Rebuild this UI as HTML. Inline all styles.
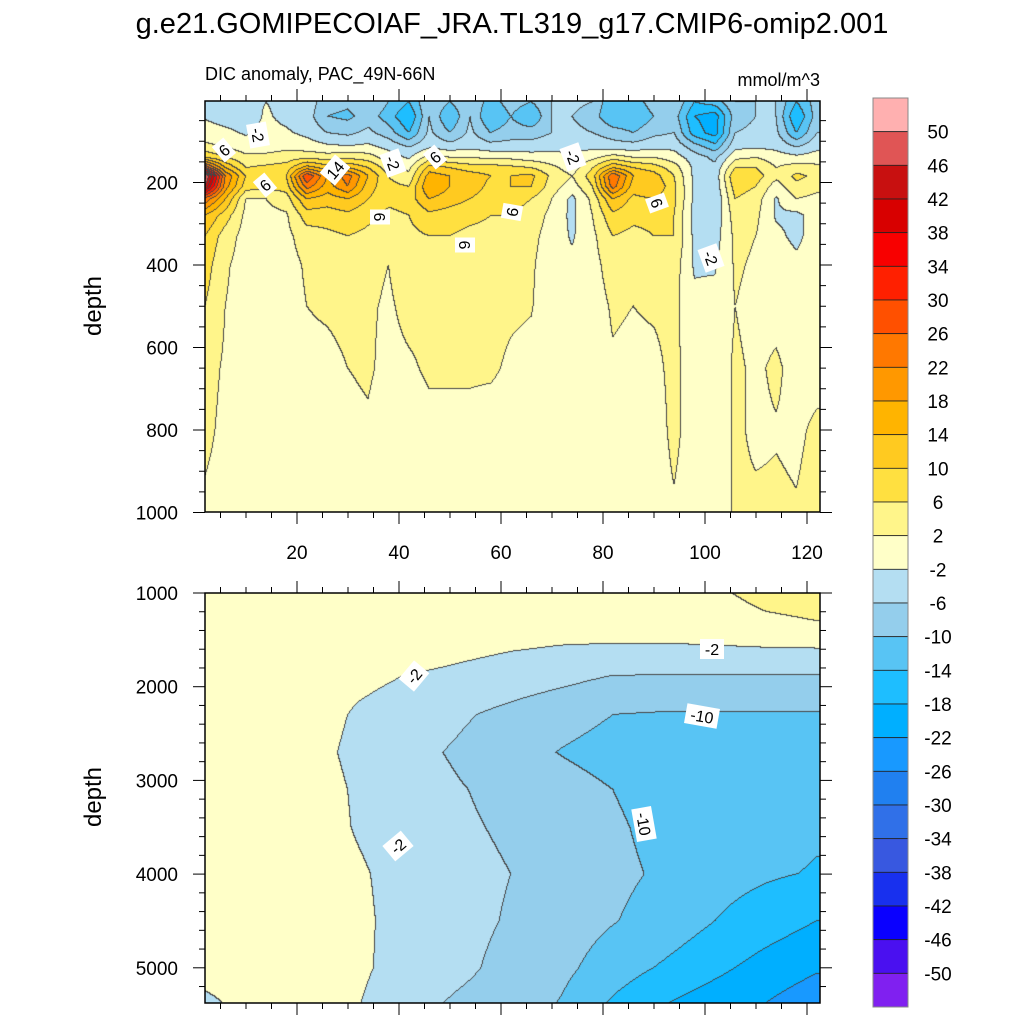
<!DOCTYPE html>
<html><head><meta charset="utf-8">
<style>
html,body{margin:0;padding:0;background:#fff;}
#wrap{position:relative;width:1024px;height:1024px;overflow:hidden;font-family:"Liberation Sans",sans-serif;}
canvas{position:absolute;}
svg{position:absolute;left:0;top:0;}
</style></head>
<body>
<div id="wrap">
<canvas id="cTop" width="615" height="411" style="left:205px;top:101px;"></canvas>
<canvas id="cBot" width="615" height="410" style="left:205px;top:593px;"></canvas>
<svg id="ov" width="1024" height="1024" xmlns="http://www.w3.org/2000/svg">
<text x="512" y="33" text-anchor="middle" font-size="29" font-family="Liberation Sans">g.e21.GOMIPECOIAF_JRA.TL319_g17.CMIP6-omip2.001</text>
<text x="205" y="80" font-size="18" font-family="Liberation Sans">DIC anomaly, PAC_49N-66N</text>
<text x="820" y="86" text-anchor="end" font-size="18" font-family="Liberation Sans">mmol/m^3</text>
<text transform="translate(101,306) rotate(-90)" text-anchor="middle" font-size="24" font-family="Liberation Sans">depth</text>
<text transform="translate(101,797) rotate(-90)" text-anchor="middle" font-size="24" font-family="Liberation Sans">depth</text>
<g id="axes"></g>
<g id="labels"></g>
<g id="cbar"></g>
</svg>
</div>
<script>
// ---- data ----
const levels = [-50,-46,-42,-38,-34,-30,-26,-22,-18,-14,-10,-6,-2,2,6,10,14,18,22,26,30,34,38,42,46,50];
const colors = ["#8020F0","#4A10F0","#0A00FF","#1830EE","#3858E0","#3070E8","#2080F0","#1899FF","#00AFFF","#1EBEFF","#58C4F4","#94CEEC","#B4DEF2","#FFFFC8","#FFF58A","#FFE040","#FFCA20","#FFB400","#FF9800","#FF7800","#FF5000","#FF2000","#F80000","#D80000","#C81010","#E05555","#FFB0B0"];
const cbarLabels = ["50","46","42","38","34","30","26","22","18","14","10","6","2","-2","-6","-10","-14","-18","-22","-26","-30","-34","-38","-42","-46","-50"];

const topX = [2,6,10,14,18,22,26,30,34,38,42,46,50,54,58,62,66,70,74,78,82,86,90,94,98,102,106,110,114,118,122];
const topDepth = [5,40,80,115,140,165,185,210,240,280,330,400,500,650,800,1000];
// each entry: one x column, values at topDepth
const topCols = [
[-3,-2.5,0,3,10,30,52,45,25,14,10,8,6,3.5,3,1.2],
[-3,-4,-1,2,6,14,22,20,14,8,4,2.5,2,1.5,1,0.5],
[-3,-4,-2.5,0,3,6,10,8,2,1,0.5,0.5,0.5,0,0,0],
[-2,-1.5,-1,0.5,3,7,9,7,2,1,0.5,0.5,0.5,0,0,0],
[-3,-3,-1.5,1,4,8,10,8,4,1.5,1,0.5,0.5,0,0,0],
[-4,-4,-3,0,5,16,30,24,14,8,4,2.5,2,1,0.5,0],
[-8,-10,-6,-1,4,12,18,16,12,8,5,4,2.5,1,0.5,0],
[-9,-11,-7,-1.5,5,14,24,22,14,9,6,4,3,2,1,0.5],
[-6,-8,-5,-1,4,10,14,12,10,7,5,3,2.5,2.5,1.5,0],
[-10,-12,-8,-3,0,4,6,7,7,5,3,2,1.5,1,0,0],
[-14,-18,-14,-6,-2.5,1,3,6,8,6,5,4,3,1.5,0.5,0],
[-6,-6,-5,-2.5,4,12,16,18,14,9,6,4,3,2.5,1,0.5],
[-10,-14,-10,-4,2,10,14,14,12,8,6,4,3,2.5,1,0.5],
[-6,-6,-5,-3,2,8,12,12,10,7,5,4,3,2.5,1,0],
[-12,-14,-10,-4,1,8,10,9,8,6,5,4,3,2.5,0.5,0],
[-8,-10,-8,-4,1,7,10,10,8,6,4,3,2.5,1.5,0.5,0],
[-10,-14,-8,-4,0,6,11,10,6,4,3,2.5,2.2,1,0.5,0],
[-6,-6,-6,-3,-0.5,3,5,4,2,1,0.5,0,0,0,0,0],
[-5,-6,-5,-3,-1.5,0,2,0,-3,-3,-2.5,-1,0,0,0,0],
[-6,-8,-6,-3,1,6,8,6,3,2,1,0.5,0,0,0,0],
[-14,-14,-8,-4,4,14,26,24,14,9,6,4,2.5,1.5,0,0],
[-12,-14,-10,-4,2,10,14,12,9,7,5,3,2,1,0,0],
[-8,-10,-7,-3,2,8,12,14,10,7,6,4,2.5,1,0,0],
[-6,-8,-6,-3,0,4,6,7,7,6,6,4,3,3,3,1.5],
[-14,-18,-16,-8,-4,-3,-3,-3,-3,-3.5,-3,-2.5,-1,0,0,0],
[-12,-20,-20,-12,-7,-5,-5,-5,-6,-5,-4,-2.5,-0.5,0,0,0],
[-6,-8,-6,-3,1,6,10,8,6,4,3,2.5,2,2.5,2.5,2.5],
[-6,-6,-5,-2.5,2,6,8,6,4,3,2,1.5,1,1.5,1.5,2.5],
[-6,-6,-5,-3,0,2,3,0,-2.5,-2.5,-1,0.5,1,2.5,1.8,2.5],
[-14,-18,-14,-6,-1,4,7,5,2,-3,-3,-1,0,1,1.5,2.2],
[-8,-8,-6,-3,0,3,5,3,1,0,0,0,0,1,2.5,3]
];

const botX = [2,12,22,32,42,52,62,72,82,92,102,112,122];
const botDepth = [1000,1300,1600,1900,2300,2700,3100,3500,4000,4500,5000,5375];
// each entry: one depth row, values at botX
const botRows = [
[0,0,0,0,0,0,0,0,0,0,1.5,3,3.5],
[0,0,0,0,0,0,0,0,0,0,0.5,1.5,2],
[0,0,0,0,0,-1,-1.8,-2.3,-2.5,-2.5,-2.4,-2.2,-2.1],
[0,0,0,-1,-2.2,-3,-4,-5,-6.2,-6.3,-6.3,-6.3,-6.3],
[0,0,0,-2.5,-4,-5.5,-7,-8.5,-10,-10.3,-10.3,-10.3,-10.3],
[0,0,-0.5,-3,-5,-6.5,-8.5,-10.2,-11.5,-12,-12,-12,-12],
[0,0,0,-2.5,-4.5,-5.8,-7,-8.5,-10,-11.5,-12,-12,-12.5],
[0,0,0,-2.3,-4,-5.5,-6.5,-8,-9.5,-11,-12,-12.5,-13.5],
[0,0,0,-1.5,-3.5,-5,-6,-7.5,-9.2,-10.5,-12.5,-13.5,-14.3],
[0,0,0,-1.2,-3.5,-5,-6.3,-8,-9.8,-11.5,-14,-16,-18],
[0,0,0,-1.2,-3.8,-5.3,-7,-9,-12,-14.5,-17,-19.5,-21.5],
[-3,0,0,-1.8,-5,-6.5,-7.5,-10.3,-14.5,-17.8,-20,-22,-24.5]
];

// ---- scales ----
const xPx = x => 195 + 5.1*x;
const xData = px => (px - 195)/5.1;
const yTop = d => 100 + d*0.4125;
const dTop = y => (y - 100)/0.4125;
const yBot = d => 593 + (d-1000)*0.0937;
const dBot = y => 1000 + (y-593)/0.0937;

function idx(arr, v){
  if (v <= arr[0]) return [0,0];
  if (v >= arr[arr.length-1]) return [arr.length-2,1];
  for (let i=0;i<arr.length-1;i++){ if (v>=arr[i] && v<=arr[i+1]) return [i,(v-arr[i])/(arr[i+1]-arr[i])]; }
  return [0,0];
}
function bin(v){ let b=0; for (const l of levels){ if (v>=l) b++; } return b; }
function hex(c){ return [parseInt(c.substr(1,2),16),parseInt(c.substr(3,2),16),parseInt(c.substr(5,2),16)]; }
const rgb = colors.map(hex);

function render(canvas, left, top, w, h, valFn){
  const ctx = canvas.getContext('2d');
  const img = ctx.createImageData(w,h);
  const B = new Int16Array(w*h);
  for (let j=0;j<h;j++) for (let i=0;i<w;i++) B[j*w+i] = bin(valFn(left+i+0.5, top+j+0.5));
  for (let j=0;j<h;j++) for (let i=0;i<w;i++){
    const b = B[j*w+i];
    let c = rgb[b];
    const edge = (i<w-1 && B[j*w+i+1]!==b) || (j<h-1 && B[(j+1)*w+i]!==b);
    const p = (j*w+i)*4;
    if (edge){ img.data[p]=70; img.data[p+1]=70; img.data[p+2]=70; }
    else { img.data[p]=c[0]; img.data[p+1]=c[1]; img.data[p+2]=c[2]; }
    img.data[p+3]=255;
  }
  ctx.putImageData(img,0,0);
}
render(document.getElementById('cTop'),205,101,615,411,(px,py)=>{
  const [i,fx] = idx(topX, xData(px)); const [j,fy] = idx(topDepth, dTop(py));
  const a=topCols[i][j], b=topCols[i+1][j], c=topCols[i][j+1], d=topCols[i+1][j+1];
  return (a*(1-fx)+b*fx)*(1-fy) + (c*(1-fx)+d*fx)*fy;
});
render(document.getElementById('cBot'),205,593,615,410,(px,py)=>{
  const [i,fx] = idx(botX, xData(px)); const [j,fy] = idx(botDepth, dBot(py));
  const a=botRows[j][i], b=botRows[j][i+1], c=botRows[j+1][i], d=botRows[j+1][i+1];
  return (a*(1-fx)+b*fx)*(1-fy) + (c*(1-fx)+d*fx)*fy;
});

// ---- axes ----
const NS="http://www.w3.org/2000/svg";
function mk(tag, attrs, parent){ const e=document.createElementNS(NS,tag); for (const k in attrs) e.setAttribute(k,attrs[k]); parent.appendChild(e); return e; }
const axes=document.getElementById('axes');
function panel(top,bot,name){
  const r = mk('rect',{x:205,y:top,width:615,height:bot-top,fill:'none',stroke:'#000','stroke-width':1.5},axes);
  
  
  for (let x=5;x<=120;x+=5){
    const px=xPx(x), L = (x%20===0)?12:6;
    mk('line',{x1:px,x2:px,y1:top,y2:top-L,stroke:'#000','stroke-width':1},axes);
    mk('line',{x1:px,x2:px,y1:bot,y2:bot+L,stroke:'#000','stroke-width':1},axes);
  }
}
panel(101,512,'top-panel');
panel(593,1003,'bottom-panel');
const xTickLabels=[20,40,60,80,100,120];
xTickLabels.forEach(v=>{
  const t=mk('text',{x:xPx(v),y:559,'text-anchor':'middle','font-size':19,'font-family':'Liberation Sans'},axes);
  t.textContent=v;
  
  
});
for (let d=50; d<=1000; d+=50){
  const y=yTop(d), L=(d%200===0)?12:6;
  mk('line',{x1:205,x2:205-L,y1:y,y2:y,stroke:'#000'},axes);
  mk('line',{x1:820,x2:820+L,y1:y,y2:y,stroke:'#000'},axes);
}
const topYTicks=[200,400,600,800,1000];
topYTicks.forEach(d=>{
  const t=mk('text',{x:178,y:yTop(d)+7,'text-anchor':'end','font-size':19,'font-family':'Liberation Sans'},axes);
  t.textContent=d;
  
  
});
for (let d=1200; d<=5200; d+=200){
  const y=yBot(d), L=(d%1000===0)?12:6;
  mk('line',{x1:205,x2:205-L,y1:y,y2:y,stroke:'#000'},axes);
  mk('line',{x1:820,x2:820+L,y1:y,y2:y,stroke:'#000'},axes);
}
const botYTicks=[1000,2000,3000,4000,5000];
botYTicks.forEach(d=>{
  if (d===1000){ mk('line',{x1:193,x2:205,y1:593,y2:593,stroke:'#000'},axes); mk('line',{x1:820,x2:832,y1:593,y2:593,stroke:'#000'},axes); }
  const t=mk('text',{x:178,y:yBot(d)+7,'text-anchor':'end','font-size':19,'font-family':'Liberation Sans'},axes);
  t.textContent=d;
  
  
});

// ---- contour labels ----
const lab=document.getElementById('labels');
const contourLabels=[
["-2",258,135,80],["6",224,150,-40],["6",265,185,-40],["14",335,170,-50],["-2",393,163,70],["6",435,157,-40],
["6",380,217,90],["6",465,245,90],["6",512,212,-80],["-2",573,157,70],["6",657,203,70],["-2",711,258,70],
["-2",414,676,-50],["-2",712,649,0],["-10",702,716,10],["-10",644,824,80],["-2",398,846,-40]];
contourLabels.forEach(([s,x,y,a])=>{
  const g=mk('g',{transform:`translate(${x},${y}) rotate(${a})`},lab);
  
  
  const w = s.length*9+6;
  mk('rect',{x:-w/2,y:-10,width:w,height:20,fill:'#fff'},g);
  const t=mk('text',{x:0,y:6,'text-anchor':'middle','font-size':16,'font-family':'Liberation Sans'},g);
  t.textContent=s;
});

// ---- colorbar ----
const cb=document.getElementById('cbar');
const cbTop=98, cbBot=1007, n=colors.length, bh=(cbBot-cbTop)/n;
for (let k=0;k<n;k++){
  const r=mk('rect',{x:873,y:cbTop+k*bh,width:35,height:bh,fill:colors[n-1-k],stroke:'#222','stroke-width':0.8},cb);
  
  
}
mk('rect',{x:873,y:cbTop,width:35,height:cbBot-cbTop,fill:'none',stroke:'#888','stroke-width':1},cb);
cbarLabels.forEach((s,k)=>{
  const t=mk('text',{x:938,y:cbTop+(k+1)*bh+7,'text-anchor':'middle','font-size':19,'font-family':'Liberation Sans'},cb);
  t.textContent=s;
  
  
});
</script>
</body></html>
